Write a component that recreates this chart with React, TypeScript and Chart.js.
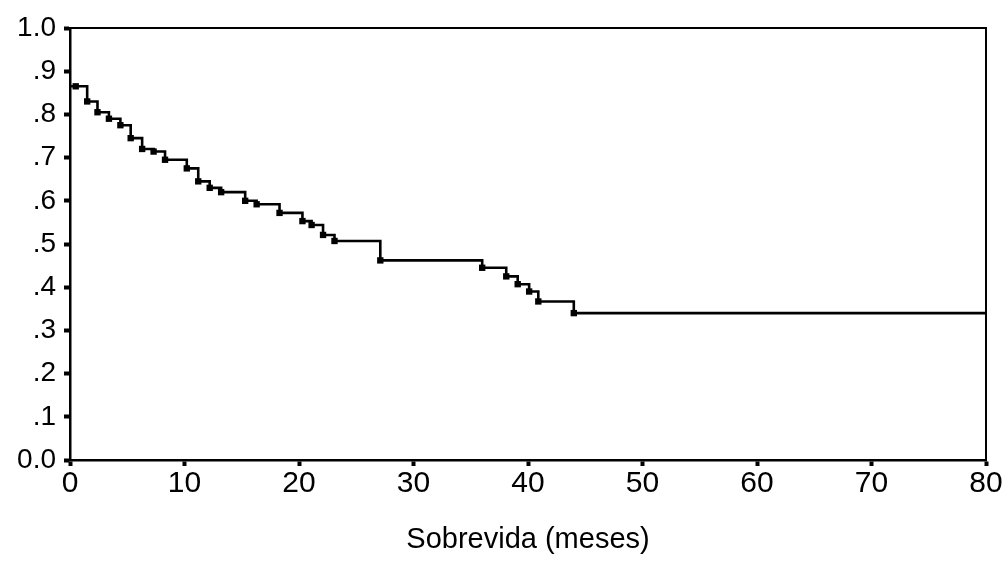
import React, { useEffect, useRef } from "react";
import { Chart, registerables } from "chart.js";

Chart.register(...registerables);

const times = [0, 0.5, 1.5, 2.4, 3.4, 4.4, 5.3, 6.3, 7.3, 8.3, 10.2, 11.2, 12.2, 13.2, 15.3, 16.3, 18.3, 20.3, 21.1, 22.1, 23.1, 27.1, 36.0, 38.1, 39.1, 40.1, 40.9, 44.0, 80];
const survival = [0.865, 0.865, 0.83, 0.805, 0.79, 0.775, 0.745, 0.72, 0.714, 0.695, 0.675, 0.645, 0.63, 0.62, 0.6, 0.592, 0.572, 0.553, 0.544, 0.521, 0.507, 0.462, 0.445, 0.425, 0.407, 0.39, 0.367, 0.34, 0.34];
const xTicks = [0, 10, 20, 30, 40, 50, 60, 70, 80];
const xTitle = "Sobrevida (meses)";

const FONT = "'Liberation Sans', Arial, Helvetica, sans-serif";

const frame = {
  id: "frame",
  afterDraw(chart: any) {
    const { ctx, chartArea: a } = chart;
    ctx.save();
    ctx.strokeStyle = "#000";
    ctx.lineWidth = 2;
    ctx.strokeRect(a.left, a.top, a.right - a.left, a.bottom - a.top);
    ctx.restore();
  },
};

export default function App() {
  const ref = useRef<HTMLCanvasElement | null>(null);
  useEffect(() => {
    if (!ref.current) return;
    const data = times.map((t, i) => ({ x: t, y: survival[i] }));
    const radii = times.map((_, i) => (i === 0 || i === times.length - 1 ? 0 : 4.5));
    const chart = new Chart(ref.current, {
      type: "line",
      data: {
        datasets: [
          {
            data,
            stepped: true,
            borderColor: "#000",
            backgroundColor: "#000",
            borderWidth: 2.6,
            pointStyle: "rect",
            pointRadius: radii,
            pointBackgroundColor: "#000",
            pointBorderWidth: 0,
            fill: false,
          },
        ],
      },
      options: {
        animation: false,
        responsive: false,
        maintainAspectRatio: false,
        layout: { padding: { top: 28, right: 18, left: 0, bottom: 0 } },
        plugins: { legend: { display: false }, tooltip: { enabled: false } },
        scales: {
          x: {
            type: "linear",
            min: 0,
            max: 80,
            afterBuildTicks(scale: any) {
              scale.ticks = xTicks.map((v) => ({ value: v }));
            },
            afterFit(scale: any) {
              scale.height = 105;
            },
            grid: { drawOnChartArea: false, tickLength: 6, tickWidth: 4, tickColor: "#000" },
            border: { display: true, color: "#000", width: 2.5 },
            ticks: {
              color: "#000",
              padding: 0,
              maxRotation: 0,
              autoSkip: false,
              font: { family: FONT, size: 30 },
            },
            title: {
              display: true,
              text: xTitle,
              color: "#000",
              font: { family: FONT, size: 29 },
              padding: { top: 0, bottom: 8 },
            },
          },
          y: {
            type: "linear",
            min: 0,
            max: 1,
            afterFit(scale: any) {
              scale.width = 70;
            },
            grid: { drawOnChartArea: false, tickLength: 6, tickWidth: 4, tickColor: "#000" },
            border: { display: true, color: "#000", width: 2.5 },
            ticks: {
              stepSize: 0.1,
              color: "#000",
              padding: 8,
              font: { family: FONT, size: 28 },
              callback(v: any) {
                const n = Math.round(Number(v) * 10);
                if (n === 10) return "1.0";
                if (n === 0) return "0.0";
                return "." + n;
              },
            },
          },
        },
      },
      plugins: [frame],
    });
    return () => chart.destroy();
  }, []);
  return (
    <div style={{ position: "fixed", left: 0, top: 0, width: 1004, height: 565, background: "#fff" }}>
      <canvas ref={ref} width={1004} height={565} style={{ display: "block" }} />
    </div>
  );
}
